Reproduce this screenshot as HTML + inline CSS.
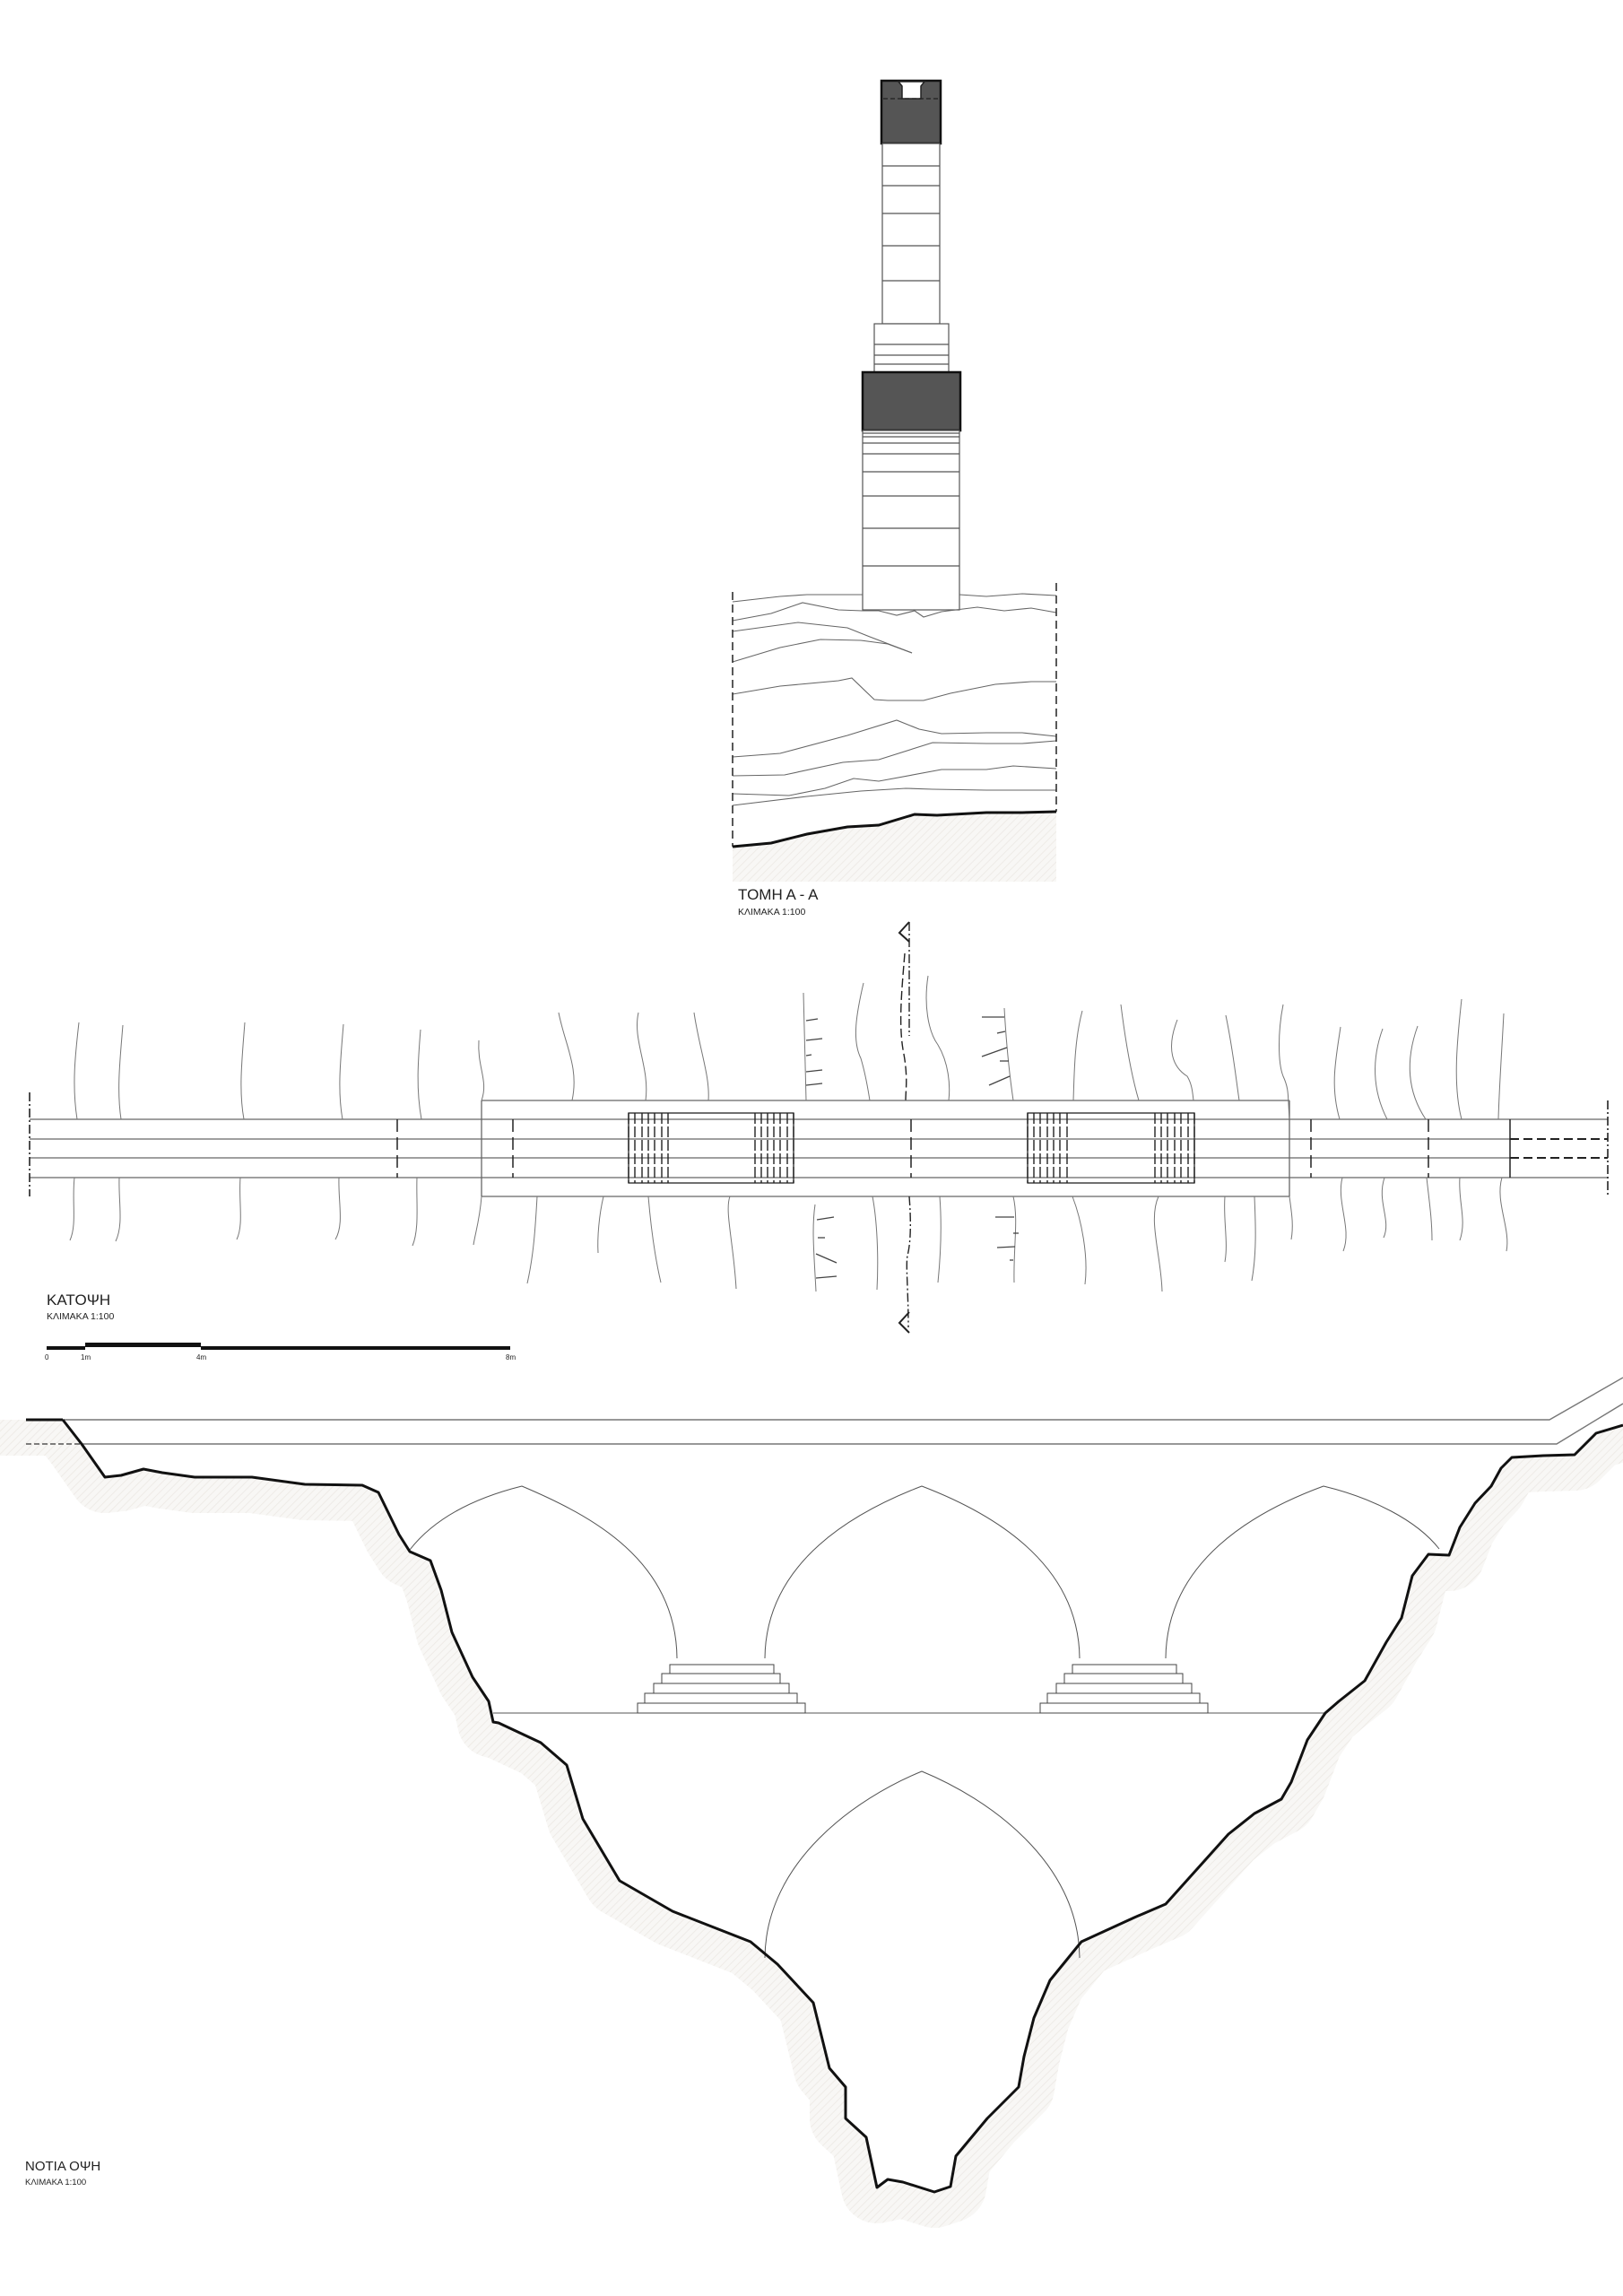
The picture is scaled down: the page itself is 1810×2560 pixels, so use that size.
<!DOCTYPE html>
<html><head><meta charset="utf-8"><style>
html,body{margin:0;padding:0;background:#fff}
svg{display:block}
text{font-family:"Liberation Sans","DejaVu Sans",sans-serif;fill:#222}
</style></head><body>
<svg width="1810" height="2560" viewBox="0 0 1810 2560" xmlns="http://www.w3.org/2000/svg">
<defs>
<pattern id="h" width="6" height="6" patternUnits="userSpaceOnUse" patternTransform="rotate(45)">
<rect width="6" height="6" fill="#f8f7f5"/><line x1="0" y1="0" x2="0" y2="6" stroke="#eeebe7" stroke-width="2"/>
</pattern>
</defs>

<!-- ========== SECTION A-A ========== -->
<g stroke="#555" fill="none" stroke-width="1.2">
<rect x="983" y="90" width="66" height="70" fill="#555" stroke="#111" stroke-width="2.5"/>
<path d="M1002 91 L1031 91 L1027 96 L1027 110 L1006 110 L1006 96 Z" fill="#fff" stroke="#222" stroke-width="1.5"/>
<line x1="985" y1="110" x2="1047" y2="110" stroke="#222" stroke-dasharray="5 3"/>
<rect x="984" y="160" width="64" height="201" fill="#fff"/>
<line x1="984" y1="185" x2="1048" y2="185"/><line x1="984" y1="207" x2="1048" y2="207"/>
<line x1="984" y1="238" x2="1048" y2="238"/><line x1="984" y1="274" x2="1048" y2="274"/>
<line x1="984" y1="313" x2="1048" y2="313"/>
<rect x="975" y="361" width="83" height="54" fill="#fff"/>
<line x1="975" y1="384" x2="1058" y2="384"/><line x1="975" y1="396" x2="1058" y2="396"/><line x1="975" y1="406" x2="1058" y2="406"/>
<rect x="962" y="415" width="109" height="65" fill="#555" stroke="#111" stroke-width="2.5"/>
<rect x="962" y="480" width="108" height="200" fill="#fff"/>
<line x1="962" y1="483" x2="1070" y2="483"/><line x1="962" y1="487" x2="1070" y2="487"/>
<line x1="962" y1="494" x2="1070" y2="494"/><line x1="962" y1="506" x2="1070" y2="506"/>
<line x1="962" y1="526" x2="1070" y2="526"/><line x1="962" y1="553" x2="1070" y2="553"/>
<line x1="962" y1="589" x2="1070" y2="589"/><line x1="962" y1="631" x2="1070" y2="631"/>
</g>
<polygon points="817,944 860,940 900,930 945,922 980,920 1010,911 1020,908 1045,909 1100,906 1140,906 1178,905 1178,983 817,983" fill="url(#h)"/>
<g stroke="#666" fill="none" stroke-width="1.1">
<polyline points="817,671 870,665 900,663 962,663"/>
<polyline points="1070,663 1100,665 1140,662 1178,664"/>
<polyline points="817,692 860,684 895,672 935,680 962,681 980,681 1000,686 1020,681 1030,688 1050,682 1090,677 1120,681 1150,678 1178,683"/>
<polyline points="817,704 890,694 945,700 970,710 1017,728"/>
<polyline points="817,738 870,722 915,713 960,714 990,718 1017,728"/>
<polyline points="817,774 870,765 935,759 950,756 975,780 990,781 1030,781 1060,773 1110,763 1150,760 1178,760"/>
<polyline points="817,844 870,840 945,820 1000,803 1025,813 1050,818 1100,817 1140,817 1178,821"/>
<polyline points="817,865 875,864 940,850 980,847 1040,828 1100,829 1140,829 1178,826"/>
<polyline points="817,885 880,887 920,879 952,868 980,871 1050,858 1100,858 1130,854 1178,857"/>
<polyline points="817,898 900,888 960,882 1010,879 1040,880 1100,881 1178,881"/>
</g>
<g stroke="#222" stroke-width="1.5" stroke-dasharray="9 5">
<line x1="817" y1="660" x2="817" y2="944"/><line x1="1178" y1="650" x2="1178" y2="905"/>
</g>
<polyline points="817,944 860,940 900,930 945,922 980,920 1010,911 1020,908 1045,909 1100,906 1140,906 1178,905" fill="none" stroke="#111" stroke-width="3"/>
<text x="823" y="1003" font-size="17">ΤΟΜΗ Α - Α</text>
<text x="823" y="1020" font-size="10.5">ΚΛΙΜΑΚΑ 1:100</text>

<!-- ========== PLAN ========== -->
<g stroke="#666" fill="none" stroke-width="1.3">
<line x1="33" y1="1248" x2="537" y2="1248"/>
<line x1="33" y1="1270" x2="1684" y2="1270"/>
<line x1="33" y1="1291" x2="1684" y2="1291"/>
<line x1="33" y1="1313" x2="537" y2="1313"/>
<line x1="537" y1="1227" x2="1438" y2="1227"/>
<line x1="537" y1="1334" x2="1438" y2="1334"/>
<line x1="537" y1="1227" x2="537" y2="1334"/>
<line x1="1438" y1="1227" x2="1438" y2="1334"/>
<line x1="537" y1="1248" x2="1793" y2="1248"/>
<line x1="537" y1="1313" x2="1793" y2="1313"/>
</g>
<line x1="1684" y1="1248" x2="1684" y2="1313" stroke="#222" stroke-width="1.5"/>
<g stroke="#222" stroke-width="2" stroke-dasharray="10 5">
<line x1="1684" y1="1270" x2="1793" y2="1270"/><line x1="1684" y1="1291" x2="1793" y2="1291"/>
</g>
<g stroke="#222" stroke-width="1.6" stroke-dasharray="10 3 2 3">
<line x1="33" y1="1218" x2="33" y2="1334"/>
<line x1="1793" y1="1227" x2="1793" y2="1334"/>
</g>
<g stroke="#222" stroke-width="1.5" stroke-dasharray="14 6">
<line x1="443" y1="1248" x2="443" y2="1313"/><line x1="572" y1="1248" x2="572" y2="1313"/>
<line x1="1016" y1="1248" x2="1016" y2="1313"/><line x1="1462" y1="1248" x2="1462" y2="1313"/>
<line x1="1593" y1="1248" x2="1593" y2="1313"/>
</g>
<g stroke="#222" stroke-width="1.3" fill="none">
<rect x="701" y="1241" width="184" height="78"/>
<rect x="1146" y="1241" width="186" height="78"/>
</g>
<g stroke="#222" stroke-width="1.4" stroke-dasharray="12 3">
<line x1="701" y1="1241" x2="701" y2="1319"/><line x1="708" y1="1241" x2="708" y2="1319"/><line x1="716" y1="1241" x2="716" y2="1319"/><line x1="723" y1="1241" x2="723" y2="1319"/><line x1="730" y1="1241" x2="730" y2="1319"/><line x1="738" y1="1241" x2="738" y2="1319"/><line x1="745" y1="1241" x2="745" y2="1319"/>
<line x1="842" y1="1241" x2="842" y2="1319"/><line x1="849" y1="1241" x2="849" y2="1319"/><line x1="856" y1="1241" x2="856" y2="1319"/><line x1="863" y1="1241" x2="863" y2="1319"/><line x1="870" y1="1241" x2="870" y2="1319"/><line x1="878" y1="1241" x2="878" y2="1319"/><line x1="885" y1="1241" x2="885" y2="1319"/>
<line x1="1146" y1="1241" x2="1146" y2="1319"/><line x1="1153" y1="1241" x2="1153" y2="1319"/><line x1="1160" y1="1241" x2="1160" y2="1319"/><line x1="1168" y1="1241" x2="1168" y2="1319"/><line x1="1175" y1="1241" x2="1175" y2="1319"/><line x1="1182" y1="1241" x2="1182" y2="1319"/><line x1="1190" y1="1241" x2="1190" y2="1319"/>
<line x1="1288" y1="1241" x2="1288" y2="1319"/><line x1="1295" y1="1241" x2="1295" y2="1319"/><line x1="1302" y1="1241" x2="1302" y2="1319"/><line x1="1310" y1="1241" x2="1310" y2="1319"/><line x1="1317" y1="1241" x2="1317" y2="1319"/><line x1="1325" y1="1241" x2="1325" y2="1319"/><line x1="1332" y1="1241" x2="1332" y2="1319"/>
</g>
<g stroke="#777" fill="none" stroke-width="1">
<path d="M88 1140 C84 1175 80 1210 86 1248"/>
<path d="M137 1143 C134 1180 130 1215 135 1248"/>
<path d="M273 1140 C270 1180 266 1215 272 1248"/>
<path d="M383 1142 C380 1180 376 1215 382 1248"/>
<path d="M469 1148 C466 1185 464 1215 470 1248"/>
<path d="M534 1160 C532 1190 545 1205 537 1227"/>
<path d="M623 1129 C630 1165 646 1190 638 1227"/>
<path d="M712 1129 C705 1160 725 1190 720 1227"/>
<path d="M774 1129 C780 1170 792 1200 790 1227"/>
<path d="M896 1107 C897 1160 898 1200 899 1227"/>
<path d="M963 1096 C955 1130 950 1160 960 1180 C966 1200 968 1215 970 1227"/>
<path d="M1035 1088 C1030 1120 1035 1150 1046 1165 C1058 1185 1060 1210 1058 1227"/>
<path d="M1120 1124 C1122 1160 1126 1200 1130 1227"/>
<path d="M1207 1127 C1198 1160 1198 1200 1197 1227"/>
<path d="M1250 1120 C1255 1160 1262 1200 1270 1227"/>
<path d="M1313 1137 C1300 1170 1308 1190 1324 1200 C1330 1210 1330 1220 1331 1227"/>
<path d="M1367 1132 C1375 1170 1378 1200 1382 1227"/>
<path d="M1431 1120 C1425 1150 1425 1185 1431 1200 C1438 1215 1436 1222 1438 1248"/>
<path d="M1495 1145 C1490 1180 1483 1210 1494 1248"/>
<path d="M1542 1147 C1530 1180 1530 1215 1547 1248"/>
<path d="M1581 1144 C1568 1180 1568 1215 1590 1248"/>
<path d="M1630 1114 C1625 1160 1620 1210 1630 1248"/>
<path d="M1677 1130 C1675 1170 1672 1210 1671 1248"/>
</g>
<g stroke="#777" fill="none" stroke-width="1">
<path d="M83 1313 C80 1340 86 1365 78 1383"/>
<path d="M133 1313 C132 1340 138 1365 129 1384"/>
<path d="M268 1313 C266 1340 272 1365 264 1382"/>
<path d="M378 1313 C377 1340 384 1365 374 1382"/>
<path d="M465 1313 C464 1340 468 1370 460 1389"/>
<path d="M537 1334 C535 1360 530 1375 528 1388"/>
<path d="M599 1334 C597 1370 595 1400 588 1431"/>
<path d="M673 1334 C668 1355 666 1380 667 1397"/>
<path d="M723 1334 C726 1370 730 1400 737 1430"/>
<path d="M814 1334 C808 1350 818 1385 821 1437"/>
<path d="M909 1343 C905 1370 908 1400 910 1440"/>
<path d="M973 1334 C978 1360 980 1400 978 1438"/>
<path d="M1048 1334 C1050 1360 1050 1390 1046 1430"/>
<path d="M1130 1334 C1136 1360 1130 1390 1131 1430"/>
<path d="M1196 1334 C1206 1360 1214 1400 1210 1432"/>
<path d="M1292 1334 C1280 1360 1295 1400 1296 1440"/>
<path d="M1366 1334 C1364 1360 1370 1385 1366 1407"/>
<path d="M1399 1334 C1400 1360 1402 1395 1396 1428"/>
<path d="M1438 1334 C1440 1350 1443 1365 1440 1382"/>
<path d="M1497 1313 C1490 1340 1508 1370 1498 1395"/>
<path d="M1544 1313 C1535 1340 1552 1360 1543 1380"/>
<path d="M1591 1313 C1594 1340 1597 1360 1597 1383"/>
<path d="M1628 1313 C1626 1340 1636 1360 1628 1383"/>
<path d="M1675 1313 C1667 1340 1685 1370 1680 1395"/>
</g>
<g stroke="#444" stroke-width="1.3">
<line x1="899" y1="1138" x2="912" y2="1136"/><line x1="899" y1="1160" x2="917" y2="1158"/><line x1="899" y1="1177" x2="905" y2="1176"/><line x1="899" y1="1195" x2="917" y2="1193"/><line x1="899" y1="1210" x2="917" y2="1208"/>
<line x1="1120" y1="1134" x2="1095" y2="1134"/><line x1="1121" y1="1150" x2="1112" y2="1152"/><line x1="1123" y1="1168" x2="1095" y2="1178"/><line x1="1125" y1="1183" x2="1115" y2="1183"/><line x1="1126" y1="1200" x2="1103" y2="1210"/>
<line x1="911" y1="1360" x2="930" y2="1357"/><line x1="912" y1="1380" x2="920" y2="1380"/><line x1="910" y1="1398" x2="933" y2="1408"/><line x1="910" y1="1425" x2="933" y2="1423"/>
<line x1="1131" y1="1357" x2="1110" y2="1357"/><line x1="1136" y1="1375" x2="1130" y2="1375"/><line x1="1132" y1="1390" x2="1112" y2="1391"/><line x1="1130" y1="1405" x2="1126" y2="1405"/>
</g>
<g stroke="#222" stroke-width="1.4" fill="none">
<line x1="1014" y1="1028" x2="1014" y2="1155" stroke-dasharray="10 3 2 3"/>
<path d="M1009 1063 C1006 1100 1002 1140 1007 1170 C1013 1200 1010 1215 1010 1227" stroke-dasharray="10 4"/>
<path d="M1014 1334 C1016 1360 1016 1385 1012 1400 C1010 1410 1013 1440 1013 1480" stroke-dasharray="10 3 2 3"/>
<polyline points="1014,1028 1003,1040 1014,1050" stroke-width="2"/>
<polyline points="1014,1463 1003,1475 1014,1486" stroke-width="2"/>
</g>
<text x="52" y="1455" font-size="17">ΚΑΤΟΨΗ</text>
<text x="52" y="1471" font-size="10.5">ΚΛΙΜΑΚΑ 1:100</text>
<g fill="#111">
<rect x="52" y="1501" width="43" height="4"/>
<rect x="95" y="1497" width="129" height="5"/>
<rect x="224" y="1501" width="345" height="4"/>
</g>
<g font-size="8">
<text x="50" y="1516">0</text><text x="90" y="1516">1m</text><text x="219" y="1516">4m</text><text x="564" y="1516">8m</text>
</g>

<!-- ========== ELEVATION ========== -->
<path d="M0 1583 L70 1583 L91 1610 L117 1647 L135 1645 L160 1638 L181 1642 L217 1647 L281 1647 L340 1655 L404 1656 L422 1664 L445 1711 L457 1730 L480 1740 L492 1773 L504 1820 L527 1870 L545 1897 L550 1920 L556 1921 L603 1943 L632 1968 L650 2028 L691 2097 L750 2131 L837 2165 L867 2190 L907 2233 L925 2306 L943 2327 L943 2362 L966 2383 L978 2439 L1007 2433 L1042 2444 L1060 2438 L1066 2404 L1101 2362 L1136 2327 L1142 2293 L1153 2250 L1171 2208 L1206 2165 L1265 2138 L1300 2123 L1335 2084 L1370 2045 L1399 2022 L1429 2006 L1440 1987 L1458 1940 L1478 1910 L1493 1897 L1522 1874 L1546 1831 L1563 1804 L1575 1757 L1593 1733 L1616 1734 L1628 1703 L1645 1676 L1663 1657 L1674 1637 L1686 1625 L1721 1623 L1756 1622 L1780 1598 L1810 1589" fill="none" stroke="url(#h)" stroke-width="80" stroke-linejoin="round"/>
<path d="M0 1540 L0 1583 L70 1583 L91 1610 L117 1647 L135 1645 L160 1638 L181 1642 L217 1647 L281 1647 L340 1655 L404 1656 L422 1664 L445 1711 L457 1730 L480 1740 L492 1773 L504 1820 L527 1870 L545 1897 L550 1920 L556 1921 L603 1943 L632 1968 L650 2028 L691 2097 L750 2131 L837 2165 L867 2190 L907 2233 L925 2306 L943 2327 L943 2362 L966 2383 L978 2439 L1007 2433 L1042 2444 L1060 2438 L1066 2404 L1101 2362 L1136 2327 L1142 2293 L1153 2250 L1171 2208 L1206 2165 L1265 2138 L1300 2123 L1335 2084 L1370 2045 L1399 2022 L1429 2006 L1440 1987 L1458 1940 L1478 1910 L1493 1897 L1522 1874 L1546 1831 L1563 1804 L1575 1757 L1593 1733 L1616 1734 L1628 1703 L1645 1676 L1663 1657 L1674 1637 L1686 1625 L1721 1623 L1756 1622 L1780 1598 L1810 1589 L1810 1540 Z" fill="#fff"/>
<rect x="0" y="1540" width="1810" height="40" fill="#fff"/>
<g stroke="#777" fill="none" stroke-width="1.4">
<polyline points="70,1583 1728,1583 1810,1536"/>
<polyline points="90,1610 1736,1610 1810,1565"/>
</g>
<line x1="29" y1="1583" x2="70" y2="1583" stroke="#111" stroke-width="3"/>
<line x1="29" y1="1610" x2="90" y2="1610" stroke="#555" stroke-width="1.6" stroke-dasharray="6 3"/>
<g stroke="#555" fill="none" stroke-width="1">
<path d="M457 1728 C485 1692 530 1670 582 1657 C660 1690 754 1740 755 1849"/>
<path d="M853 1849 C854 1740 955 1685 1028 1657 C1101 1685 1203 1740 1204 1849"/>
<path d="M1300 1849 C1301 1740 1400 1685 1476 1657 C1530 1670 1580 1695 1605 1727"/>
<path d="M853 2183 C854 2075 955 2005 1028 1975 C1101 2005 1203 2075 1204 2183"/>
<line x1="550" y1="1910" x2="1478" y2="1910"/>
<g stroke="#444">
<rect x="747" y="1856" width="116" height="10"/>
<rect x="738" y="1866" width="132" height="11"/>
<rect x="729" y="1877" width="151" height="11"/>
<rect x="719" y="1888" width="170" height="11"/>
<rect x="711" y="1899" width="187" height="11"/>
<rect x="1196" y="1856" width="116" height="10"/>
<rect x="1187" y="1866" width="132" height="11"/>
<rect x="1178" y="1877" width="151" height="11"/>
<rect x="1168" y="1888" width="170" height="11"/>
<rect x="1160" y="1899" width="187" height="11"/>
</g>
</g>
<path d="M70 1583 L91 1610 L117 1647 L135 1645 L160 1638 L181 1642 L217 1647 L281 1647 L340 1655 L404 1656 L422 1664 L445 1711 L457 1730 L480 1740 L492 1773 L504 1820 L527 1870 L545 1897 L550 1920 L556 1921 L603 1943 L632 1968 L650 2028 L691 2097 L750 2131 L837 2165 L867 2190 L907 2233 L925 2306 L943 2327 L943 2362 L966 2383 L978 2439 L990 2430 L1007 2433 L1042 2444 L1060 2438 L1066 2404 L1101 2362 L1136 2327 L1142 2293 L1153 2250 L1171 2208 L1206 2165 L1265 2138 L1300 2123 L1335 2084 L1370 2045 L1399 2022 L1429 2006 L1440 1987 L1458 1940 L1478 1910 L1493 1897 L1522 1874 L1546 1831 L1563 1804 L1575 1757 L1593 1733 L1616 1734 L1628 1703 L1645 1676 L1663 1657 L1674 1637 L1686 1625 L1721 1623 L1756 1622 L1780 1598 L1810 1589" fill="none" stroke="#111" stroke-width="3" stroke-linejoin="round"/>
<text x="28" y="2420" font-size="15">ΝΟΤΙΑ ΟΨΗ</text>
<text x="28" y="2436" font-size="9.5">ΚΛΙΜΑΚΑ 1:100</text>
</svg>
</body></html>
